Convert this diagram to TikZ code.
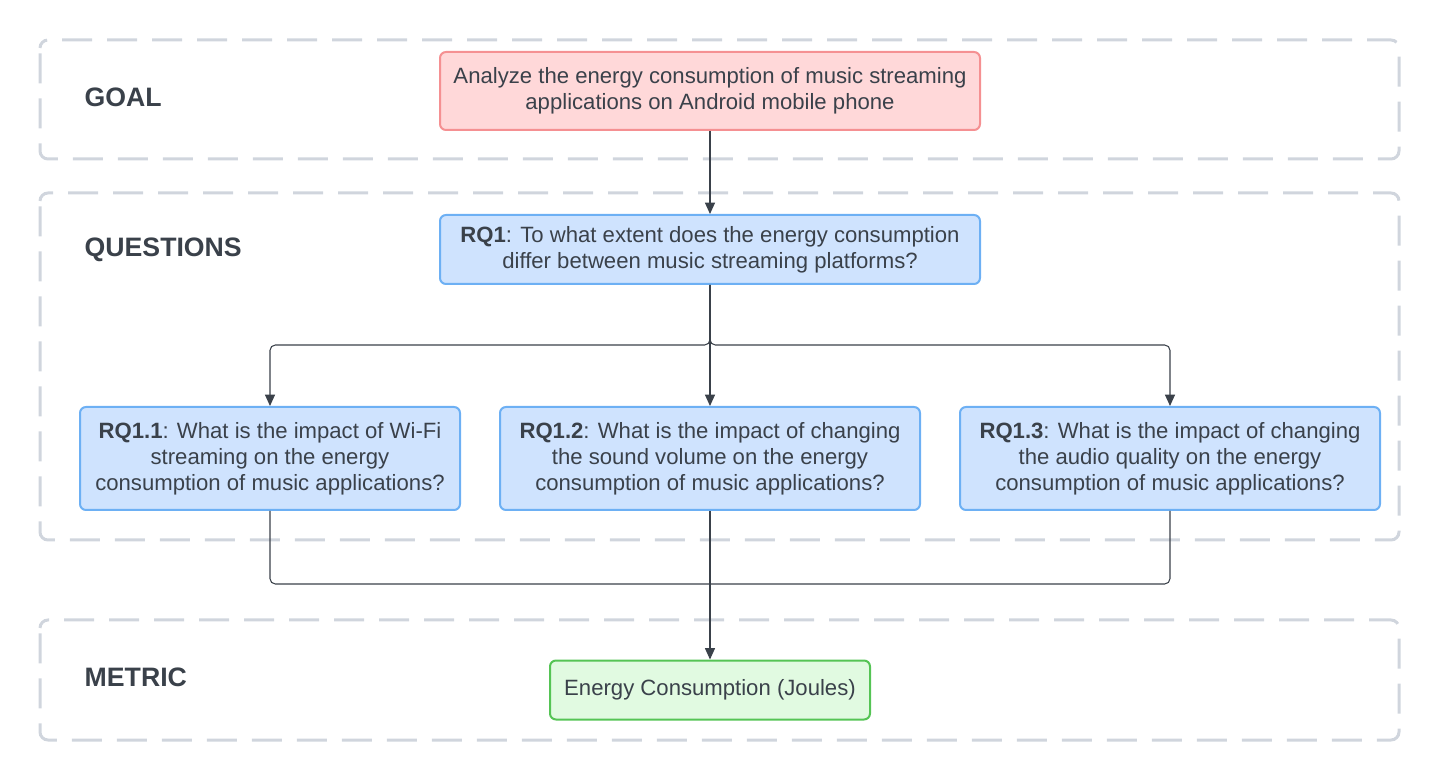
\documentclass[tikz,border=0pt]{standalone}
\usepackage{fontspec}
\setmainfont{Liberation Sans}
\usetikzlibrary{arrows.meta}

\definecolor{inktext}{HTML}{3A414A}
\definecolor{framegray}{HTML}{D0D5DD}
\definecolor{goalfill}{HTML}{FFD8D9}
\definecolor{goalline}{HTML}{F59092}
\definecolor{qfill}{HTML}{CFE3FE}
\definecolor{qline}{HTML}{6DB0F4}
\definecolor{mfill}{HTML}{E1FAE1}
\definecolor{mline}{HTML}{55C455}

\tikzset{
  frame/.style={draw=framegray, line width=2.25pt, rounded corners=6pt,
    dash pattern=on 22.5pt off 11.25pt, dash phase=-4pt},
  level/.style={anchor=west, text=inktext, font=\fontsize{20}{22}\selectfont\bfseries},
  box/.style={rounded corners=4.5pt, line width=1.5pt, align=center, text=inktext,
    font=\fontsize{16.6}{19.5}\selectfont, inner sep=0pt},
  goalbox/.style={box, fill=goalfill, draw=goalline},
  qbox/.style={box, fill=qfill, draw=qline},
  metricbox/.style={box, fill=mfill, draw=mline},
  link/.style={draw=inktext, line width=0.8pt, rounded corners=4pt},
  arrow/.style={link, -{Triangle[length=8.5pt,width=7.5pt]}}
}

\begin{document}
\begin{tikzpicture}[x=0.75pt,y=-0.75pt]
    \useasboundingbox (0,0) rectangle (1440,780);

    % Dashed level frames
    \draw[frame] (40,40) rectangle (1399,159);
    \draw[frame] (40,193) rectangle (1399,540);
    \draw[frame] (40,620) rectangle (1399,740);

    % Level labels
    \node[level] (goallabel) at (80,97) {GOAL};
    \node[level] (qlabel) at (80,250) {QUESTIONS};
    \node[level] (metriclabel) at (80,677) {METRIC};

    % Goal
    \node[goalbox, minimum width=405pt, minimum height=58.5pt] (goal) at (710,91)
        {Analyze the energy consumption of music streaming\\applications on Android mobile phone};

    % Questions
    \node[qbox, minimum width=405pt, minimum height=51.75pt] (rq1) at (710,249.5)
        {\textbf{RQ1}: To what extent does the energy consumption\\differ between music streaming platforms?};
    \node[qbox, minimum width=285pt, minimum height=77.25pt] (rq11) at (270,458.5)
        {\textbf{RQ1.1}: What is the impact of Wi-Fi\\streaming on the energy\\consumption of music applications?};
    \node[qbox, minimum width=315pt, minimum height=77.25pt] (rq12) at (710,458.5)
        {\textbf{RQ1.2}: What is the impact of changing\\the sound volume on the energy\\consumption of music applications?};
    \node[qbox, minimum width=315pt, minimum height=77.25pt] (rq13) at (1170,458.5)
        {\textbf{RQ1.3}: What is the impact of changing\\the audio quality on the energy\\consumption of music applications?};

    % Metric
    \node[metricbox, minimum width=240pt, minimum height=44.25pt] (metric) at (710,690)
        {Energy Consumption (Joules)};

    % Connectors
    \coordinate (split) at (710,345);
    \coordinate (merge) at (710,584);
    \draw[arrow] (goal) -- (rq1);
    \draw[arrow] (rq1.south) -- (split) -| (rq11.north);
    \draw[arrow] (rq1.south) -- (split) -| (rq13.north);
    \draw[arrow] (rq1.south) -- (rq12.north);
    \draw[link] (rq11.south) |- (merge);
    \draw[link] (rq13.south) |- (merge);
    \draw[arrow] (rq12.south) -- (metric.north);
\end{tikzpicture}
\end{document}
